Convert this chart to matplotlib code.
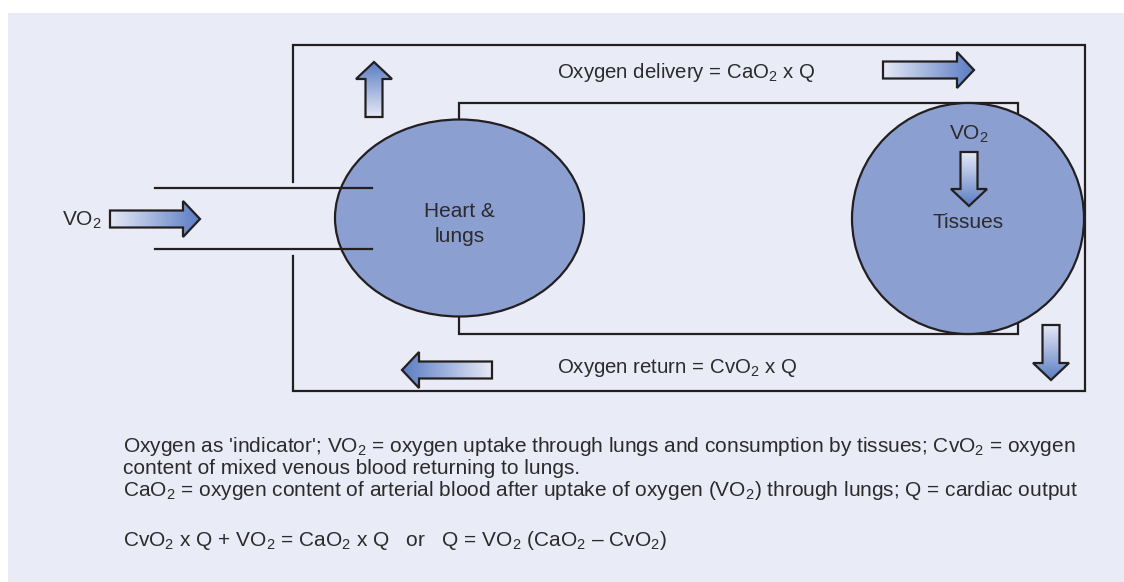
import matplotlib
matplotlib.use("Agg")
import matplotlib.pyplot as plt
import numpy as np
from matplotlib.patches import Ellipse, Polygon, Rectangle
from matplotlib.colors import LinearSegmentedColormap

plt.rcParams['font.family'] = ['Liberation Sans', 'DejaVu Sans']
plt.rcParams['mathtext.fontset'] = 'custom'
plt.rcParams['mathtext.rm'] = 'Liberation Sans'
plt.rcParams['mathtext.it'] = 'Liberation Sans:italic'

W, H = 1124, 582
bg = '#e9ebf6'
ink = '#231f20'
text_ink = '#2b2a2c'
organ_fill = '#8c9fd1'
grad = LinearSegmentedColormap.from_list('o2', ['#e6e9f6', '#5b7dc3'])

# compartments (pixel layout of the diagram)
organ_labels = ['Heart &\nlungs', 'Tissues']
organ_x = [459.5, 968]
organ_y = [218, 218.5]
organ_w = [249, 232]
organ_h = [197, 231]
organ_label_y = [224, 223]

# block arrows: tail -> tip
arrow_tail = [(110, 219), (374, 117), (883, 70), (492, 370), (1051, 325), (969, 152)]
arrow_tip = [(200, 219), (374, 62), (974, 70), (402, 370), (1051, 380), (969, 206)]

# circuit lines
outer_box = (293, 45, 1085, 391)
outer_gap = (182, 256)
inner_box = (459, 103, 1018, 334)
tube_y = [188, 249]
tube_x = (155, 372)

# labels
flow_labels = ['Oxygen delivery = CaO${}_2$ x Q', 'Oxygen return = CvO${}_2$ x Q']
flow_pos = [(557, 72), (557, 368)]
caption = [
    "Oxygen as 'indicator'; VO${}_2$ = oxygen uptake through lungs and consumption by tissues; CvO${}_2$ = oxygen",
    "content of mixed venous blood returning to lungs.",
    "CaO${}_2$ = oxygen content of arterial blood after uptake of oxygen (VO${}_2$) through lungs; Q = cardiac output",
    "CvO${}_2$ x Q + VO${}_2$ = CaO${}_2$ x Q   or   Q = VO${}_2$ (CaO${}_2$ \u2013 CvO${}_2$)",
]
caption_y = [447, 469, 491, 540]


def block_arrow(ax, tail, tip, sw=17, hw=36, hl=17):
    tail = np.array(tail, float)
    tip = np.array(tip, float)
    d = tip - tail
    L = np.hypot(*d)
    u = d / L
    v = np.array([-u[1], u[0]])
    local = [(0, -sw/2), (L-hl, -sw/2), (L-hl, -hw/2), (L, 0),
             (L-hl, hw/2), (L-hl, sw/2), (0, sw/2)]
    pts = np.array([tail + a*u + b*v for a, b in local])
    x0, y0 = pts.min(axis=0)
    x1, y1 = pts.max(axis=0)
    xs = np.linspace(x0, x1, 120)
    ys = np.linspace(y0, y1, 120)
    X, Y = np.meshgrid(xs, ys)
    T = ((X - tail[0])*u[0] + (Y - tail[1])*u[1]) / L
    poly = Polygon(pts, closed=True, fc='none', ec=ink, lw=1.6, zorder=6)
    ax.add_patch(poly)
    im = ax.imshow(T, extent=(x0, x1, y1, y0), origin='upper', cmap=grad,
                   vmin=0, vmax=1, aspect='auto', interpolation='bilinear', zorder=5)
    im.set_clip_path(poly)


fig = plt.figure(figsize=(W/100, H/100), dpi=100)
ax = fig.add_axes([0, 0, 1, 1])
ax.set_axis_off()

ax.add_patch(Rectangle((8, 13), W, H, fc=bg, ec='none', zorder=0))

lw = 1.6
x0, y0, x1, y1 = outer_box
ax.plot([x0, x0, x1, x1, x0, x0], [outer_gap[0], y0, y0, y1, y1, outer_gap[1]],
        color=ink, lw=lw, solid_joinstyle='miter', zorder=2)
ix0, iy0, ix1, iy1 = inner_box
ax.plot([ix0, ix0, ix1, ix1, ix0, ix0], [iy0 + 20, iy0, iy0, iy1, iy1, iy1 - 20],
        color=ink, lw=lw, solid_joinstyle='miter', zorder=2)

for cx, cy, w, h, lab, ly in zip(organ_x, organ_y, organ_w, organ_h, organ_labels, organ_label_y):
    ax.add_patch(Ellipse((cx, cy), w, h, fc=organ_fill, ec=ink, lw=lw, zorder=3))
    ax.text(cx, ly, lab, ha='center', va='center', fontsize=15, color=text_ink,
            linespacing=1.4, zorder=7)

for ty in tube_y:
    ax.plot(tube_x, [ty, ty], color=ink, lw=lw, zorder=4)

for t, p in zip(arrow_tail, arrow_tip):
    block_arrow(ax, t, p)

ax.text(62, 220, 'VO${}_2$', ha='left', va='center', fontsize=15, color=text_ink)
ax.text(969, 134, 'VO${}_2$', ha='center', va='center', fontsize=15, color=text_ink, zorder=7)

for lab, (px, py) in zip(flow_labels, flow_pos):
    ax.text(px, py, lab, ha='left', va='center', fontsize=14.7, color=text_ink)

for line, cy in zip(caption, caption_y):
    ax.text(123, cy, line, ha='left', va='center', fontsize=15, color=text_ink)

ax.set_xlim(0, W)
ax.set_ylim(H, 0)
fig.savefig('out.png', dpi=100, facecolor='white')
